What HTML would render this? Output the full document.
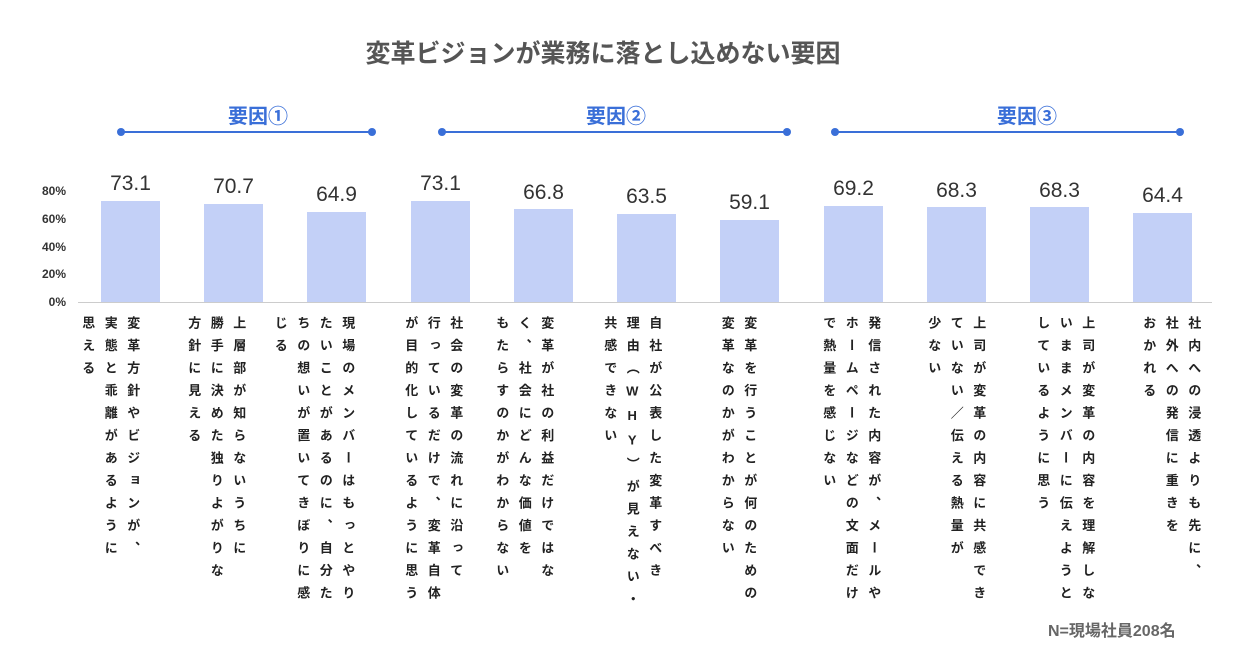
<!DOCTYPE html>
<html><head><meta charset="utf-8"><style>
body{margin:0;width:1250px;height:662px;background:#fff;position:relative;overflow:hidden;font-family:"Liberation Sans","Noto Sans CJK JP",sans-serif}
.a{position:absolute}
.t{left:0;width:1206px;top:34px;text-align:center;font-size:25px;font-weight:bold;color:#555}
.g{font-size:20px;font-weight:bold;color:#3a6fd8;text-align:center;width:200px;top:100px}
.ln{height:2px;background:#3a6fd8;top:131px}
.dt{width:8px;height:8px;border-radius:50%;background:#3a6fd8;top:128px}
.bar{background:#c3d0f7;width:59px}
.v{font-size:21px;color:#333;width:80px;text-align:center}
.y{font-size:12px;font-weight:bold;color:#333;width:40px;text-align:right;left:26px}
.lb{writing-mode:vertical-rl;text-orientation:upright;font-size:13px;font-weight:bold;color:#222;letter-spacing:9.5px;line-height:22.5px;top:316px;white-space:nowrap;height:320px}
</style></head><body>
<div class="a t">変革ビジョンが業務に落とし込めない要因</div>
<div class="a g" style="left:158px">要因①</div>
<div class="a g" style="left:516px">要因②</div>
<div class="a g" style="left:927px">要因③</div>
<div class="a ln" style="left:121px;width:251px"></div><div class="a dt" style="left:117px"></div><div class="a dt" style="left:368px"></div>
<div class="a ln" style="left:442px;width:345px"></div><div class="a dt" style="left:438px"></div><div class="a dt" style="left:783px"></div>
<div class="a ln" style="left:835px;width:345px"></div><div class="a dt" style="left:831px"></div><div class="a dt" style="left:1176px"></div>
<div class="a y" style="top:184px">80%</div>
<div class="a y" style="top:212px">60%</div>
<div class="a y" style="top:240px">40%</div>
<div class="a y" style="top:267px">20%</div>
<div class="a y" style="top:295px">0%</div>

<div class="a bar" style="left:101px;top:200.6px;height:101.4px"></div>
<div class="a bar" style="left:204px;top:203.9px;height:98.1px"></div>
<div class="a bar" style="left:307px;top:212px;height:90px"></div>
<div class="a bar" style="left:411px;top:200.6px;height:101.4px"></div>
<div class="a bar" style="left:514px;top:209.3px;height:92.7px"></div>
<div class="a bar" style="left:617px;top:213.9px;height:88.1px"></div>
<div class="a bar" style="left:720px;top:220px;height:82px"></div>
<div class="a bar" style="left:824px;top:206px;height:96px"></div>
<div class="a bar" style="left:927px;top:207.2px;height:94.8px"></div>
<div class="a bar" style="left:1030px;top:207.2px;height:94.8px"></div>
<div class="a bar" style="left:1133px;top:212.6px;height:89.4px"></div>

<div class="a v" style="left:90.5px;top:172px">73.1</div>
<div class="a v" style="left:193.5px;top:175.3px">70.7</div>
<div class="a v" style="left:296.5px;top:183.4px">64.9</div>
<div class="a v" style="left:400.5px;top:172px">73.1</div>
<div class="a v" style="left:503.5px;top:180.7px">66.8</div>
<div class="a v" style="left:606.5px;top:185.3px">63.5</div>
<div class="a v" style="left:709.5px;top:191.4px">59.1</div>
<div class="a v" style="left:813.5px;top:177.4px">69.2</div>
<div class="a v" style="left:916.5px;top:178.6px">68.3</div>
<div class="a v" style="left:1019.5px;top:178.6px">68.3</div>
<div class="a v" style="left:1122.5px;top:184px">64.4</div>

<div class="a" style="left:78px;top:302px;width:1134px;height:1px;background:#ccc"></div>

<div class="a lb" style="left:75.75px;width:67.5px">変革方針やビジョンが、<br>実態と乖離があるように<br>思える</div>
<div class="a lb" style="left:181.75px;width:67.5px">上層部が知らないうちに<br>勝手に決めた独りよがりな<br>方針に見える</div>
<div class="a lb" style="left:268.25px;width:90px">現場のメンバーはもっとやり<br>たいことがあるのに、自分た<br>ちの想いが置いてきぼりに感<br>じる</div>
<div class="a lb" style="left:398.75px;width:67.5px">社会の変革の流れに沿って<br>行っているだけで、変革自体<br>が目的化しているように思う</div>
<div class="a lb" style="left:489.75px;width:67.5px">変革が社の利益だけではな<br>く、社会にどんな価値を<br>もたらすのかがわからない</div>
<div class="a lb" style="left:597.75px;width:67.5px">自社が公表した変革すべき<br>理由（WHY）が見えない・<br>共感できない</div>
<div class="a lb" style="left:715.25px;width:45px">変革を行うことが何のための<br>変革なのかがわからない</div>
<div class="a lb" style="left:816.75px;width:67.5px">発信された内容が、メールや<br>ホームページなどの文面だけ<br>で熱量を感じない</div>
<div class="a lb" style="left:921.75px;width:67.5px">上司が変革の内容に共感でき<br>ていない／伝える熱量が<br>少ない</div>
<div class="a lb" style="left:1030.75px;width:67.5px">上司が変革の内容を理解しな<br>いままメンバーに伝えようと<br>しているように思う</div>
<div class="a lb" style="left:1136.75px;width:67.5px">社内への浸透よりも先に、<br>社外への発信に重きを<br>おかれる</div>

<div class="a" style="left:1048px;top:617px;font-size:16px;font-weight:bold;color:#666">N=現場社員208名</div>
</body></html>
